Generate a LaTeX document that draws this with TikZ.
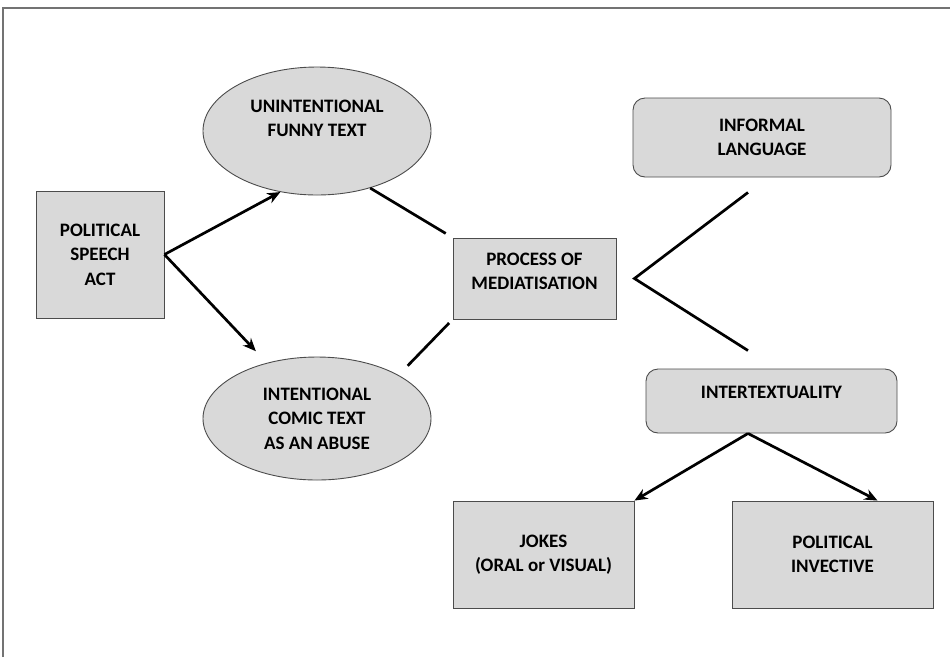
\documentclass[tikz,border=0pt]{standalone}
\usepackage{fontspec}
\setmainfont{Carlito}
\usetikzlibrary{arrows.meta,shapes.geometric}

\begin{document}
\begin{tikzpicture}[x=1pt,y=-1pt,font=\fontsize{19}{24.5}\selectfont\bfseries]
  \path[use as bounding box] (0,0) rectangle (950,657);
  \fill[white] (0,0) rectangle (950,657);
  \draw[black!55,line width=1.3pt] (3,657) -- (3,8) -- (950,8);

  \tikzset{box/.style n args={2}{draw=black!70,line width=.9pt,fill=black!15,
    minimum width=#1,minimum height=#2,align=center,inner sep=0pt},
    rbox/.style n args={2}{box={#1}{#2},rounded corners=12pt},
    oval/.style n args={2}{box={#1}{#2},ellipse},
    arrow/.style={-{Stealth[length=13pt,width=11pt]},line width=2.7pt},
    link/.style={line width=2.7pt}}

  \node[box={128pt}{127pt}] (speech) at (100,254.5)
    {POLITICAL\\SPEECH\\ACT};
  \node[oval={228pt}{128pt}] (funny) at (317,131)
    {UNINTENTIONAL\\FUNNY TEXT\\[-6pt]\strut};
  \node[oval={228pt}{123pt}] (comic) at (317,418.5)
    {INTENTIONAL\\COMIC TEXT\\AS AN ABUSE};
  \node[box={163pt}{81pt}] (media) at (534.5,278.5)
    {PROCESS OF\\MEDIATISATION\\[-17pt]\strut};
  \node[rbox={258pt}{79pt}] (informal) at (762,137.5)
    {INFORMAL\\LANGUAGE};
  \node[rbox={251pt}{64pt}] (intertext) at (771.5,401)
    {INTERTEXTUALITY\\[-14pt]\strut};
  \node[box={181pt}{107pt}] (jokes) at (543.5,554.5)
    {JOKES\\(ORAL or VISUAL)};
  \node[box={201pt}{107pt}] (invective) at (832.5,554.5)
    {POLITICAL\\INVECTIVE};

  \coordinate (vtip) at ([xshift=18pt]media.east);
  \coordinate (fork) at ([xshift=-23.5pt]intertext.south);

  \draw[arrow] (speech.east) -- (funny.239);
  \draw[arrow,shorten >=16pt] (speech.east) -- (comic.132);
  \draw[link,shorten >=8pt] (funny.-47) -- (media.north west);
  \draw[link,shorten <=13pt,shorten >=5pt] (comic.28) -- (media.south west);
  \draw[link] ([xshift=-14pt,yshift=-15pt]informal.south) -- (vtip)
    -- ([xshift=-23.5pt,yshift=18pt]intertext.north);
  \draw[arrow] (fork) -- (jokes.north east);
  \draw[arrow] (fork) -- ([xshift=45pt]invective.north);
\end{tikzpicture}
\end{document}
